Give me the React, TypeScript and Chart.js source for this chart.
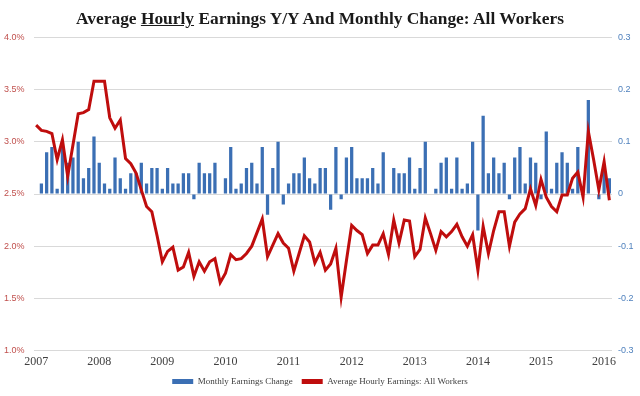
import React, { useEffect, useRef } from "react";
import { Chart, registerables } from "chart.js";

Chart.register(...registerables);

const yearLabels = ["2007", "2008", "2009", "2010", "2011", "2012", "2013", "2014", "2015", "2016"];
const monthNames = ["Jan", "Feb", "Mar", "Apr", "May", "Jun", "Jul", "Aug", "Sep", "Oct", "Nov", "Dec"];
const lastMonthCount = 110; // Jan 2007 .. Feb 2016

const categories: string[] = [];
yearLabels.forEach((y) =>
  monthNames.forEach((m) => {
    if (categories.length < lastMonthCount) categories.push(`${m} ${y}`);
  })
);

// Average Hourly Earnings, all workers, Y/Y % (left axis)
const yoyEarnings = [
  3.16, 3.11, 3.10, 3.08, 2.83, 3.02, 2.67, 2.97, 3.27, 3.28, 3.31, 3.58,
  3.58, 3.58, 3.23, 3.13, 3.21, 2.84, 2.79, 2.70, 2.54, 2.38, 2.33, 2.10,
  1.85, 1.95, 1.99, 1.77, 1.80, 1.94, 1.71, 1.85, 1.76, 1.85, 1.88, 1.65,
  1.74, 1.92, 1.87, 1.88, 1.93, 2.00, 2.13, 2.26, 1.90, 2.01, 2.12, 2.03,
  1.98, 1.76, 1.93, 2.10, 2.04, 1.84, 1.94, 1.77, 1.83, 1.98, 1.51, 1.86,
  2.20, 2.15, 2.11, 1.93, 2.01, 2.01, 2.12, 1.92, 2.25, 2.03, 2.25, 2.24,
  1.90, 1.97, 2.27, 2.12, 1.96, 2.14, 2.09, 2.14, 2.21, 2.09, 2.00, 2.11,
  1.77, 2.19, 1.93, 2.15, 2.33, 2.33, 2.00, 2.23, 2.31, 2.36, 2.55, 2.39,
  2.64, 2.47, 2.38, 2.33, 2.49, 2.49, 2.65, 2.71, 2.47, 3.10, 2.83, 2.54,
  2.81, 2.44,
];

// Monthly earnings change, $ (right axis)
const monthlyChange: (number | null)[] = [
  null, 0.02, 0.08, 0.09, 0.01, 0.10, 0.06, 0.07, 0.10, 0.03, 0.05, 0.11,
  0.06, 0.02, 0.01, 0.07, 0.03, 0.01, 0.04, 0.04, 0.06, 0.02, 0.05, 0.05,
  0.01, 0.05, 0.02, 0.02, 0.04, 0.04, -0.01, 0.06, 0.04, 0.04, 0.06, 0.00,
  0.03, 0.09, 0.01, 0.02, 0.05, 0.06, 0.02, 0.09, -0.04, 0.05, 0.10, -0.02,
  0.02, 0.04, 0.04, 0.07, 0.03, 0.02, 0.05, 0.05, -0.03, 0.09, -0.01, 0.07,
  0.09, 0.03, 0.03, 0.03, 0.05, 0.02, 0.08, 0.00, 0.05, 0.04, 0.04, 0.07,
  0.01, 0.05, 0.10, 0.00, 0.01, 0.06, 0.07, 0.01, 0.07, 0.01, 0.02, 0.10,
  -0.07, 0.15, 0.04, 0.07, 0.04, 0.06, -0.01, 0.07, 0.09, 0.02, 0.07, 0.06,
  -0.01, 0.12, 0.01, 0.06, 0.08, 0.06, 0.01, 0.09, 0.00, 0.18, 0.00, -0.01,
  0.05, 0.03,
];

const barLabel = "Monthly Earnings Change";
const lineLabel = "Average Hourly Earnings: All Workers";

export default function App() {
  const canvasRef = useRef<HTMLCanvasElement | null>(null);

  useEffect(() => {
    const canvas = canvasRef.current;
    if (!canvas) return;
    const chart = new Chart(canvas, {
      type: "bar",
      data: {
        labels: categories,
        datasets: [
          {
            type: "bar",
            label: barLabel,
            data: monthlyChange,
            yAxisID: "y1",
            backgroundColor: "#3b6fb4",
            barPercentage: 0.62,
            categoryPercentage: 1,
            order: 1,
          },
          {
            type: "line",
            label: lineLabel,
            data: yoyEarnings,
            yAxisID: "y",
            borderColor: "#bf0d0d",
            backgroundColor: "#bf0d0d",
            borderWidth: 3,
            pointRadius: 0,
            tension: 0,
            order: 0,
          },
        ],
      },
      options: {
        animation: false,
        responsive: false,
        layout: { padding: { top: 37.5, left: 0, right: 0, bottom: 0 } },
        plugins: {
          tooltip: { enabled: false },
          legend: {
            position: "bottom",
            labels: {
              boxWidth: 21,
              boxHeight: 5,
              padding: 9,
              color: "#404040",
              font: { family: '"Liberation Serif", serif', size: 9 },
              sort: (a: any, b: any) => a.datasetIndex - b.datasetIndex,
              generateLabels: (c: any) =>
                (Chart.defaults.plugins.legend.labels as any)
                  .generateLabels(c)
                  .map((l: any) => ({ ...l, lineWidth: 0, strokeStyle: "rgba(0,0,0,0)" })),
            },
          },
        },
        scales: {
          x: {
            offset: true,
            grid: { display: false, drawTicks: false },
            border: { display: false },
            ticks: {
              autoSkip: false,
              maxRotation: 0,
              minRotation: 0,
              padding: 4,
              color: "#404040",
              font: { family: '"Liberation Serif", serif', size: 12 },
              callback: (_v: any, i: number) => (i % 12 === 0 ? yearLabels[i / 12] : ""),
            },
            afterFit: (s: any) => {
              s.height = 17.5;
            },
          },
          y: {
            position: "left",
            min: 1,
            max: 4,
            grid: { color: "#d9d9d9", drawTicks: false },
            border: { display: false },
            ticks: {
              stepSize: 0.5,
              padding: 9,
              color: "#c0504d",
              font: { family: '"Liberation Sans", sans-serif', size: 9 },
              callback: (v: any) => Number(v).toFixed(1) + "%",
            },
            afterFit: (s: any) => {
              s.width = 33.5;
            },
          },
          y1: {
            position: "right",
            min: -0.3,
            max: 0.3,
            grid: { drawOnChartArea: false, drawTicks: false },
            border: { display: false },
            ticks: {
              stepSize: 0.1,
              padding: 6,
              color: "#4f81bd",
              font: { family: '"Liberation Sans", sans-serif', size: 9 },
              callback: (v: any) => (Math.abs(Number(v)) < 1e-9 ? "0" : Number(v).toFixed(1)),
            },
            afterFit: (s: any) => {
              s.width = 28;
            },
          },
        },
      },
    });
    return () => chart.destroy();
  }, []);

  return (
    <div
      style={{
        position: "fixed",
        left: 0,
        top: 0,
        width: 640,
        height: 396,
        background: "#ffffff",
        overflow: "hidden",
      }}
    >
      <div
        style={{
          position: "absolute",
          left: 0,
          top: 7,
          width: 640,
          height: 22,
          lineHeight: "22px",
          textAlign: "center",
          fontFamily: '"Liberation Serif", serif',
          fontWeight: "bold",
          fontSize: 17.4,
          color: "#1a1a1a",
          whiteSpace: "nowrap",
        }}
      >
        Average <u>Hourly</u> Earnings Y/Y And Monthly Change: All Workers
      </div>
      <canvas ref={canvasRef} width={640} height={396} style={{ display: "block" }} />
    </div>
  );
}
